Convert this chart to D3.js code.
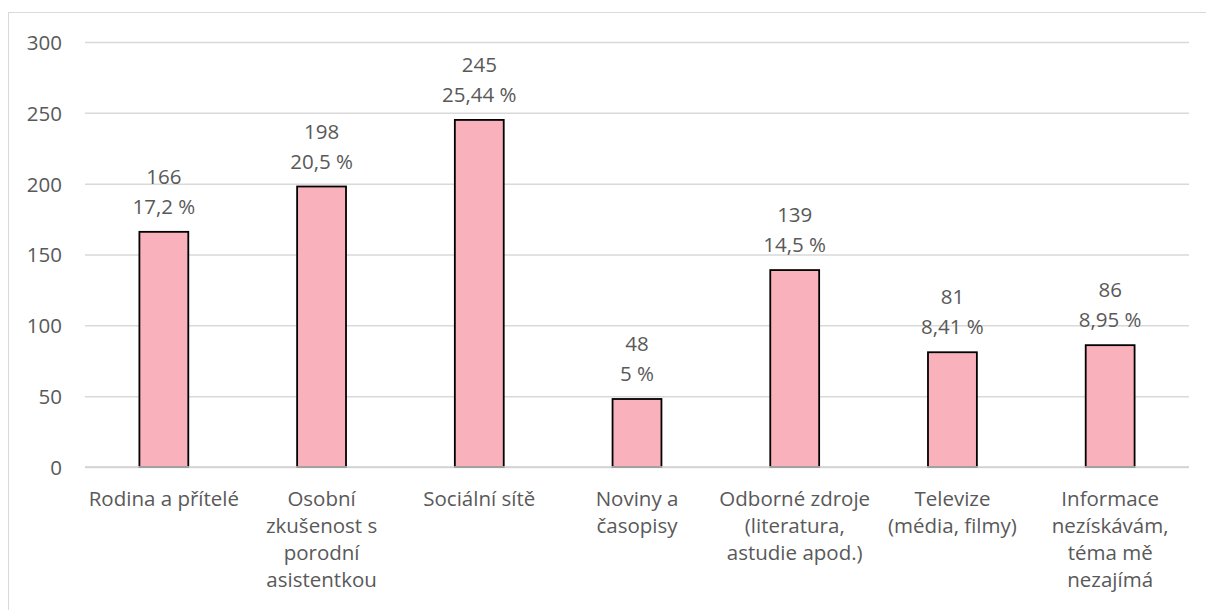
<!DOCTYPE html>
<html>
<head>
<meta charset="utf-8">
<script src="https://cdn.jsdelivr.net/npm/d3@7"></script>
<style>
  html, body { margin: 0; padding: 0; background: #fff; }
  svg { display: block; }
  text { font-family: "Open Sans", "Noto Sans", sans-serif; fill: #595959; }
</style>
</head>
<body>
<svg id="chart" width="1206" height="610"></svg>
<script>
// Source categories (line breaks as shown under the axis)
const categories = [
  "Rodina a přítelé",
  "Osobní\nzkušenost s\nporodní\nasistentkou",
  "Sociální sítě",
  "Noviny a\nčasopisy",
  "Odborné zdroje\n(literatura,\nastudie apod.)",
  "Televize\n(média, filmy)",
  "Informace\nnezískávám,\ntéma mě\nnezajímá"
];
// Number of respondents per source
const counts = [166, 198, 245, 48, 139, 81, 86];
// Share of respondents, in percent
const shares = [17.2, 20.5, 25.44, 5, 14.5, 8.41, 8.95];
// Value axis ticks
const yTicks = [0, 50, 100, 150, 200, 250, 300];

const FONT = 20.5;
const svg = d3.select("#chart");
const plot = { left: 85, right: 1189, top: 42, bottom: 467 };

// Outer chart frame
svg.append("rect")
  .attr("x", 8.5).attr("y", 12.5)
  .attr("width", 1210).attr("height", 620)
  .attr("fill", "none").attr("stroke", "#d9d9d9").attr("stroke-width", 1);

const x = d3.scaleBand()
  .domain(categories)
  .range([plot.left, plot.right])
  .paddingInner(0.69)
  .paddingOuter(0.345);

const y = d3.scaleLinear()
  .domain([0, 300])
  .range([plot.bottom, plot.top]);

// Horizontal gridlines + value labels
const yAxis = d3.axisLeft(y)
  .tickValues(yTicks)
  .tickSize(-(plot.right - plot.left))
  .tickPadding(23)
  .tickFormat(d3.format("d"));

const gy = svg.append("g")
  .attr("transform", `translate(${plot.left},0)`)
  .call(yAxis);
gy.select(".domain").remove();
gy.selectAll(".tick line").attr("stroke", "#d9d9d9").attr("stroke-width", 1.5);
gy.selectAll(".tick text")
  .attr("font-size", FONT)
  .attr("fill", "#595959")
  .attr("dy", "0.36em")
  .style("font-family", '"Open Sans", sans-serif');

// Bars
svg.append("g")
  .selectAll("rect")
  .data(counts)
  .join("rect")
  .attr("x", (d, i) => x(categories[i]))
  .attr("y", d => y(d))
  .attr("width", x.bandwidth())
  .attr("height", d => y(0) - y(d))
  .attr("fill", "#f9b1bb")
  .attr("stroke", "#000")
  .attr("stroke-width", 1.8);

// Baseline drawn over the bar bottoms
svg.append("line")
  .attr("x1", plot.left).attr("x2", plot.right)
  .attr("y1", y(0)).attr("y2", y(0))
  .attr("stroke", "#d0d0d0").attr("stroke-width", 1.5);

// Value labels: count on top, share beneath
const labels = svg.append("g")
  .selectAll("text")
  .data(counts)
  .join("text")
  .attr("text-anchor", "middle")
  .attr("font-size", FONT)
  .attr("x", (d, i) => x(categories[i]) + x.bandwidth() / 2)
  .attr("y", d => y(d) - 48);
labels.append("tspan").text(d => d);
labels.append("tspan")
  .attr("x", (d, i) => x(categories[i]) + x.bandwidth() / 2)
  .attr("dy", 30)
  .text((d, i) => String(shares[i]).replace(".", ",") + " %");

// Category axis labels (multi-line)
const xAxis = d3.axisBottom(x).tickSize(0).tickFormat("");
const gx = svg.append("g")
  .attr("transform", `translate(0,${plot.bottom})`)
  .call(xAxis);
gx.select(".domain").remove();
gx.selectAll(".tick").each(function (d) {
  const t = d3.select(this).append("text")
    .attr("text-anchor", "middle")
    .attr("font-size", FONT)
    .attr("fill", "#595959");
  d.split("\n").forEach((line, k) => {
    t.append("tspan")
      .attr("x", 0)
      .attr("y", 39 + k * 27)
      .text(line);
  });
});
</script>
</body>
</html>
